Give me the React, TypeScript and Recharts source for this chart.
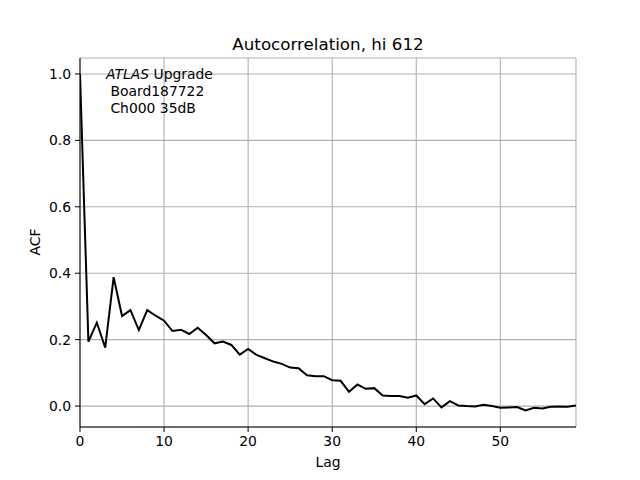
// Autocorrelation plot — matplotlib-like styling in Recharts
import { LineChart, Line, XAxis, YAxis, CartesianGrid } from 'recharts';

const LAGS = Array.from({ length: 60 }, (_, i) => i);
const ACF = [
  1.0, 0.194, 0.251, 0.176, 0.388, 0.271, 0.289, 0.229, 0.289, 0.272,
  0.257, 0.226, 0.230, 0.217, 0.236, 0.214, 0.189, 0.194, 0.184, 0.155,
  0.172, 0.154, 0.144, 0.134, 0.127, 0.116, 0.114, 0.093, 0.090, 0.090,
  0.078, 0.076, 0.043, 0.065, 0.052, 0.054, 0.032, 0.030, 0.030, 0.025,
  0.032, 0.006, 0.023, -0.004, 0.015, 0.002, 0.0, -0.001, 0.004, 0.0,
  -0.005, -0.004, -0.003, -0.013, -0.005, -0.007, -0.002, -0.001, -0.002, 0.002,
];
const X_TICKS = [0, 10, 20, 30, 40, 50];
const Y_TICKS = [0, 0.2, 0.4, 0.6, 0.8, 1.0];

const TITLE = 'Autocorrelation, hi 612';
const NOTE_LINES = [' Board187722', ' Ch000 35dB'];

const FONT = '"DejaVu Sans", sans-serif';
const TICK = { fill: '#000', fontSize: 13.9, fontFamily: FONT };

const data = LAGS.map((lag, i) => ({ lag, acf: ACF[i] }));

export default function App() {
  return (
    <div style={{ position: 'absolute', left: 0, top: 0, width: 640, height: 480, background: '#fff' }}>
      <LineChart width={640} height={480} data={data} margin={{ top: 58, right: 64, bottom: 23, left: 30 }}>
        <CartesianGrid stroke="#b0b0b0" strokeWidth={1.1} />
        <XAxis dataKey="lag" type="number" domain={[0, 59]} ticks={X_TICKS} allowDataOverflow
          tick={TICK} tickSize={5} tickMargin={4} height={30} stroke="#000" tickLine={{ stroke: '#000' }} />
        <XAxis xAxisId="top" orientation="top" type="number" domain={[0, 59]} tick={false} tickLine={false} height={0} stroke="#000" />
        <YAxis type="number" domain={[-0.063, 1.048]} ticks={Y_TICKS} allowDataOverflow
          tickFormatter={(v: number) => v.toFixed(1)} tick={TICK} tickSize={5} tickMargin={4} width={50} stroke="#000" />
        <YAxis yAxisId="right" orientation="right" type="number" domain={[-0.063, 1.048]} tick={false} tickLine={false} width={0} stroke="#000" />
        <Line dataKey="acf" stroke="#000" strokeWidth={2} dot={false} isAnimationActive={false} />
      </LineChart>
      <svg width={640} height={480} style={{ position: 'absolute', left: 0, top: 0, pointerEvents: 'none' }}
        fontFamily={FONT}>
        <text x={328} y={50} textAnchor="middle" fontSize={16.7} fill="#000">{TITLE}</text>
        <text x={328} y={467} textAnchor="middle" fontSize={13.9} fill="#000">Lag</text>
        <text x={40} y={242} textAnchor="middle" fontSize={13.9} fill="#000" transform="rotate(-90 40 242)">ACF</text>
        <text x={106} y={79} fontSize={13.9} fill="#000" style={{ whiteSpace: 'pre' }}>
          <tspan fontStyle="italic">ATLAS</tspan> Upgrade
        </text>
        {NOTE_LINES.map((t, i) => (
          <text key={i} x={106} y={96 + i * 16.5} fontSize={13.9} fill="#000" style={{ whiteSpace: 'pre' }}>{t}</text>
        ))}
      </svg>
    </div>
  );
}
